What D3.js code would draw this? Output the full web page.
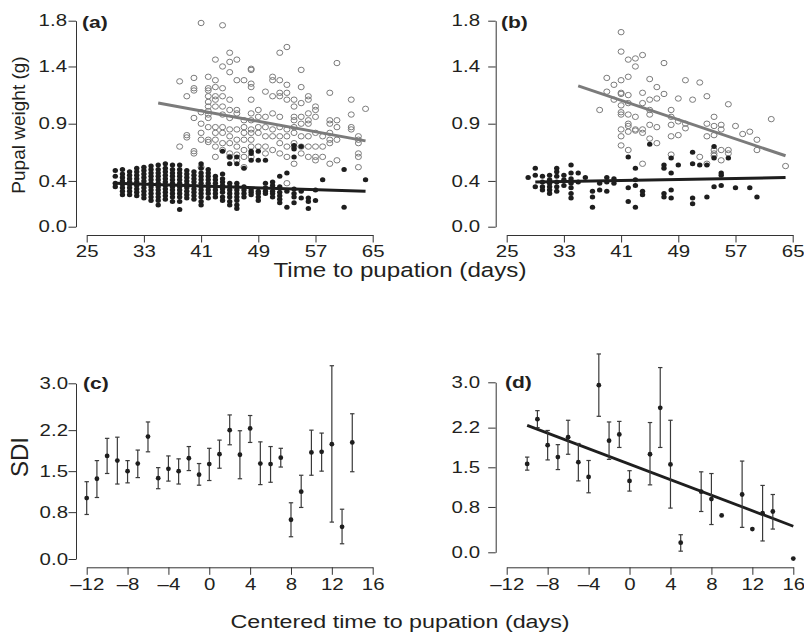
<!DOCTYPE html>
<html>
<head>
<meta charset="utf-8">
<script src="https://cdn.jsdelivr.net/npm/d3@7"></script>
<style>
  body { margin: 0; background: #fff; }
  text { font-family: "Liberation Sans", Arial, sans-serif; fill: #231f20; }
</style>
</head>
<body>
<svg id="chart" width="804" height="638"></svg>
<script>
// ---- data ----
// panels (a) and (b): [day, [pupal weights]] ; open = grey circles, filled = black dots
var aOpen = [
  [38, [1.27, 0.70]], [39, [1.14, 0.80, 0.78]], [40, [1.30, 1.21, 1.19, 0.95, 0.66, 0.64]],
  [41, [1.78, 1.00, 0.90, 0.82, 0.76, 0.52]],
  [42, [1.31, 1.21, 1.19, 1.14, 1.09, 1.05, 1.01, 0.98, 0.95, 0.87, 0.76, 0.74]],
  [43, [1.46, 1.28, 1.22, 1.14, 1.11, 1.05, 0.87, 0.82, 0.76, 0.70, 0.61]],
  [44, [1.76, 1.40, 1.21, 1.14, 1.05, 0.98, 0.87, 0.82, 0.73, 0.67]],
  [45, [1.52, 1.44, 1.35, 1.11, 1.02, 0.95, 0.85, 0.79, 0.73, 0.64, 0.61]],
  [46, [1.46, 1.28, 1.02, 0.99, 0.85, 0.76, 0.70, 0.63, 0.58]],
  [47, [1.28, 0.93, 0.87, 0.82, 0.76, 0.67, 0.61, 0.52]],
  [48, [1.38, 1.37, 1.25, 1.22, 1.11, 0.99, 0.93, 0.85, 0.82, 0.76, 0.70, 0.61]],
  [49, [1.02, 0.96, 0.87, 0.82, 0.70]], [50, [1.18, 0.96, 0.87, 0.79, 0.70, 0.64]],
  [51, [1.31, 1.28, 1.14, 0.99, 0.85, 0.79, 0.67]],
  [52, [1.52, 1.28, 1.17, 1.14, 0.96, 0.87, 0.79, 0.73, 0.64]],
  [53, [1.57, 1.24, 1.17, 1.11, 0.85, 0.79, 0.70, 0.61, 0.38]],
  [54, [1.11, 1.05, 0.96, 0.93, 0.87, 0.82, 0.73, 0.70, 0.55]],
  [55, [1.37, 1.22, 1.08, 0.96, 0.90, 0.79, 0.70, 0.64]],
  [56, [1.14, 1.11, 0.99, 0.93, 0.90, 0.79, 0.70, 0.61]],
  [57, [1.05, 1.02, 0.96, 0.82, 0.70, 0.61, 0.58]], [58, [0.79, 0.70, 0.61]],
  [59, [1.17, 0.93, 0.90, 0.82, 0.76, 0.73, 0.55]], [60, [1.43, 0.93, 0.87, 0.76, 0.58]],
  [62, [1.11, 0.98, 0.87, 0.85]], [63, [0.79, 0.76, 0.73, 0.64, 0.61, 0.52]], [64, [1.03]]
];
var aFilled = [
  [29, [0.49, 0.44, 0.38, 0.35]],
  [30, [0.50, 0.46, 0.43, 0.40, 0.37, 0.34, 0.31, 0.28]],
  [31, [0.48, 0.45, 0.42, 0.39, 0.37, 0.34, 0.31, 0.28]],
  [32, [0.51, 0.48, 0.45, 0.42, 0.39, 0.36, 0.33, 0.30, 0.27]],
  [33, [0.52, 0.49, 0.46, 0.43, 0.40, 0.37, 0.34, 0.31, 0.28, 0.25]],
  [34, [0.53, 0.50, 0.47, 0.44, 0.41, 0.38, 0.35, 0.32, 0.29, 0.26, 0.23]],
  [35, [0.54, 0.50, 0.47, 0.44, 0.41, 0.38, 0.35, 0.32, 0.29, 0.26, 0.23, 0.19]],
  [36, [0.55, 0.51, 0.48, 0.45, 0.42, 0.39, 0.36, 0.33, 0.30, 0.27, 0.24]],
  [37, [0.54, 0.50, 0.47, 0.44, 0.41, 0.38, 0.35, 0.32, 0.29, 0.26, 0.22]],
  [38, [0.54, 0.50, 0.47, 0.44, 0.41, 0.38, 0.35, 0.32, 0.29, 0.26, 0.22, 0.15]],
  [39, [0.49, 0.46, 0.43, 0.40, 0.37, 0.34, 0.31, 0.28, 0.25]],
  [40, [0.48, 0.45, 0.42, 0.39, 0.36, 0.33, 0.30, 0.27, 0.24]],
  [41, [0.55, 0.51, 0.47, 0.44, 0.41, 0.38, 0.35, 0.32, 0.29, 0.26, 0.22, 0.19]],
  [42, [0.50, 0.47, 0.44, 0.41, 0.38, 0.35, 0.32, 0.29, 0.25]],
  [43, [0.44, 0.41, 0.38, 0.35, 0.32, 0.29, 0.26]],
  [44, [0.66, 0.46, 0.42, 0.39, 0.36, 0.33, 0.30, 0.26, 0.23]],
  [45, [0.61, 0.55, 0.38, 0.35, 0.32, 0.29, 0.26, 0.22, 0.19]],
  [46, [0.61, 0.55, 0.38, 0.35, 0.32, 0.29, 0.26, 0.23, 0.19, 0.16]],
  [47, [0.51, 0.35, 0.32, 0.29, 0.26]], [48, [0.66, 0.64, 0.58, 0.32, 0.30, 0.28]],
  [49, [0.66, 0.58, 0.31, 0.29, 0.26, 0.23]], [50, [0.58, 0.38, 0.34, 0.31, 0.29]],
  [51, [0.39, 0.36, 0.31, 0.29, 0.26]], [52, [0.44, 0.35, 0.30, 0.27, 0.24, 0.21]],
  [53, [0.47, 0.31, 0.17]], [54, [0.71, 0.68, 0.61, 0.33, 0.29, 0.26, 0.21]],
  [55, [0.70, 0.31, 0.25]], [56, [0.25, 0.22, 0.16]], [57, [0.32, 0.23]],
  [58, [0.41]], [61, [0.50, 0.17]], [64, [0.41]]
];
var bOpen = [
  [38, [1.02]], [39, [1.30, 1.18]], [40, [1.24, 1.11]],
  [41, [1.70, 1.53, 1.28, 1.17, 1.16, 1.06, 1.00, 0.98, 0.85, 0.79, 0.71]],
  [42, [1.46, 1.31, 1.15, 1.08, 0.98, 0.90, 0.88, 0.83, 0.67]],
  [43, [1.47, 1.40, 0.96, 0.85, 0.84]], [44, [1.50, 1.17, 1.08, 0.85, 0.82, 0.55]],
  [45, [1.29, 1.11, 1.02, 0.98, 0.89, 0.77]], [46, [1.22, 1.12, 0.87, 0.73]],
  [47, [1.43, 1.16]], [48, [1.02, 0.96, 0.89, 0.79, 0.63]], [49, [1.12, 0.92, 0.80]],
  [50, [1.28, 0.90, 0.86]], [51, [1.11]], [52, [1.26, 0.61]], [53, [1.14, 0.90, 0.79, 0.55]],
  [54, [0.96, 0.88, 0.80, 0.67, 0.64, 0.62]], [55, [0.89, 0.85, 0.67, 0.58]],
  [56, [1.07, 0.67, 0.64]], [57, [0.88]], [58, [0.81]], [59, [0.83]], [60, [0.76, 0.67]],
  [62, [0.94]], [64, [0.53]]
];
var bFilled = [
  [28, [0.43]], [29, [0.51, 0.45, 0.35]], [30, [0.44, 0.39, 0.35, 0.32]],
  [31, [0.45, 0.41, 0.38, 0.35, 0.32, 0.29]], [32, [0.51, 0.48, 0.44, 0.39, 0.35, 0.31]],
  [33, [0.45, 0.41, 0.36]], [34, [0.54, 0.47, 0.42, 0.38, 0.34, 0.29, 0.25]],
  [35, [0.47, 0.39]], [36, [0.43]], [37, [0.31, 0.26, 0.17]], [38, [0.38, 0.32]],
  [39, [0.43, 0.39, 0.31]], [40, [0.42, 0.38]], [42, [0.61, 0.34, 0.22]],
  [43, [0.51, 0.41, 0.36, 0.17]], [44, [0.31, 0.28]], [45, [0.72]],
  [47, [0.54, 0.51, 0.29, 0.26]], [48, [0.60, 0.47, 0.32, 0.25]], [49, [0.54]],
  [51, [0.65, 0.55, 0.25, 0.20]], [52, [0.54]], [53, [0.54, 0.26]], [54, [0.70, 0.60, 0.35]],
  [55, [0.47, 0.45, 0.36]], [56, [0.60]], [57, [0.34]], [59, [0.34]], [60, [0.26]]
];
// fitted lines: [day, weight] at both ends
var aOpenFit = [[35, 1.08], [64, 0.75]];
var aFilledFit = [[29, 0.38], [64, 0.31]];
var bOpenFit = [[35, 1.23], [64, 0.62]];
var bFilledFit = [[29, 0.39], [64, 0.43]];

// panels (c) and (d): centred time, SDI and error bar ends
var cTime = [-12, -11, -10, -9, -8, -7, -6, -5, -4, -3, -2, -1, 0, 1, 2, 3, 4, 5, 6, 7, 8, 9, 10, 11, 12, 13, 14];
var cSdi  = [1.04, 1.37, 1.76, 1.68, 1.50, 1.63, 2.09, 1.38, 1.54, 1.50, 1.72, 1.44, 1.62, 1.79, 2.20, 1.78, 2.23, 1.63, 1.62, 1.73, 0.67, 1.15, 1.82, 1.83, 1.96, 0.55, 1.99];
var cHigh = [1.32, 1.68, 2.06, 2.08, 1.68, 1.86, 2.34, 1.56, 1.76, 1.71, 1.92, 1.63, 1.89, 2.03, 2.46, 2.19, 2.45, 2.00, 1.92, 1.89, 0.96, 1.43, 2.20, 2.15, 3.30, 0.85, 2.48];
var cLow  = [0.76, 1.05, 1.46, 1.28, 1.30, 1.39, 1.83, 1.20, 1.33, 1.28, 1.51, 1.26, 1.34, 1.55, 1.95, 1.37, 1.99, 1.27, 1.31, 1.57, 0.38, 0.88, 1.43, 1.50, 0.63, 0.26, 1.49];

var dTime = [-10, -9, -8, -7, -6, -5, -4, -3, -2, -1, 0, 2, 3, 4, 5, 7, 8, 9, 11, 12, 13, 14, 16];
var dSdi  = [1.56, 2.35, 1.89, 1.68, 2.03, 1.59, 1.33, 2.95, 1.97, 2.08, 1.26, 1.73, 2.55, 1.55, 0.17, 1.07, 0.94, 0.65, 1.02, 0.41, 0.69, 0.72, -0.11];
var dHigh = [1.68, 2.50, 2.15, 1.90, 2.33, 1.92, 1.62, 3.50, 2.30, 2.31, 1.44, 2.29, 3.26, 2.33, 0.31, 1.42, 1.39, null, 1.61, null, 1.18, 1.02, null];
var dLow  = [1.45, 2.20, 1.63, 1.46, 1.73, 1.26, 1.05, 2.40, 1.64, 1.85, 1.08, 1.19, 1.85, 0.78, 0.02, 0.72, 0.49, null, 0.44, null, 0.20, 0.41, null];
var dFit  = [[-10, 2.24], [16, 0.46]];

var weightTicks = [0.0, 0.4, 0.9, 1.4, 1.8];
var dayTicks = [25, 33, 41, 49, 57, 65];
var sdiTicks = [0.0, 0.8, 1.5, 2.2, 3.0];
var centredTicks = [-12, -8, -4, 0, 4, 8, 12, 16];

// ---- drawing ----
var svg = d3.select("#chart");
var STRETCH = 1.24;   // the figure's horizontal text is widened
var GREY = "#7b7b7b", INK = "#1e1e1e", AXIS = "#333";

function flat(series) {
    return series.flatMap(function (s) { return s[1].map(function (w) { return {x: s[0], y: w}; }); });
}

function leftAxis(g, y, ticks, fmt, labelRight, axisX) {
    var ax = g.append("g").attr("transform", "translate(" + axisX + ",0)")
        .call(d3.axisLeft(y).tickValues(ticks).tickFormat(fmt).tickSize(7.5).tickSizeOuter(0));
    ax.select(".domain").attr("stroke", AXIS);
    ax.selectAll(".tick line").attr("stroke", AXIS);
    ax.selectAll("text")
        .attr("font-size", 16.5).attr("fill", "#231f20")
        .attr("x", (labelRight - axisX) / STRETCH)
        .attr("transform", "scale(" + STRETCH + ",1)");
}

function bottomAxis(g, x, ticks, fmt, axisY) {
    var ax = g.append("g").attr("transform", "translate(0," + axisY + ")")
        .call(d3.axisBottom(x).tickValues(ticks).tickFormat(fmt).tickSize(7.5).tickSizeOuter(0).tickPadding(3));
    ax.select(".domain").attr("stroke", AXIS);
    ax.selectAll(".tick line").attr("stroke", AXIS);
    ax.selectAll("text")
        .attr("font-size", 16.5).attr("fill", "#231f20")
        .attr("transform", "scale(" + STRETCH + ",1)");
}

function panelTag(text, x, y) {
    svg.append("text").attr("transform", "translate(" + x + "," + y + ") scale(" + STRETCH + ",1)")
        .attr("font-size", 17).attr("font-weight", "bold").text(text);
}

function scatterPanel(p) {
    var g = svg.append("g");
    var x = d3.scaleLinear().domain([25, 65]).range(p.xRange);
    var y = d3.scaleLinear().domain([0, 1.8]).range([226.7, 20.7]);
    var line = d3.line().x(function (d) { return x(d[0]); }).y(function (d) { return y(d[1]); });

    g.selectAll(".open").data(flat(p.open)).enter().append("ellipse")
        .attr("cx", function (d) { return x(d.x); }).attr("cy", function (d) { return y(d.y); })
        .attr("rx", 3).attr("ry", 2.7)
        .attr("fill", "none").attr("stroke", GREY).attr("stroke-width", 1);

    g.selectAll(".filled").data(flat(p.filled)).enter().append("ellipse")
        .attr("cx", function (d) { return x(d.x); }).attr("cy", function (d) { return y(d.y); })
        .attr("rx", 2.7).attr("ry", 2.5).attr("fill", INK);

    g.append("path").datum(p.openFit).attr("d", line)
        .attr("fill", "none").attr("stroke", GREY).attr("stroke-width", 3);
    g.append("path").datum(p.filledFit).attr("d", line)
        .attr("fill", "none").attr("stroke", INK).attr("stroke-width", 3);

    leftAxis(g, y, weightTicks, d3.format(".1f"), p.labelRight, p.axisX);
    bottomAxis(g, x, dayTicks, d3.format("d"), 235);
    panelTag(p.tag, p.tagX, 28);
}

function sdiPanel(p) {
    var g = svg.append("g");
    var x = d3.scaleLinear().domain([-12, 16]).range(p.xRange);
    var y = d3.scaleLinear().domain([0, 3]).range(p.yRange);
    var pts = p.time.map(function (t, i) { return {x: t, y: p.sdi[i], lo: p.low[i], hi: p.high[i]}; });
    var bars = pts.filter(function (d) { return d.hi !== null; });

    if (p.fit) {
        var line = d3.line().x(function (d) { return x(d[0]); }).y(function (d) { return y(d[1]); });
        g.append("path").datum(p.fit).attr("d", line)
            .attr("fill", "none").attr("stroke", INK).attr("stroke-width", 2.8);
    }

    var eb = g.selectAll(".eb").data(bars).enter().append("g").attr("stroke", "#3a3a3a").attr("stroke-width", 1.2);
    eb.append("line")
        .attr("x1", function (d) { return x(d.x); }).attr("x2", function (d) { return x(d.x); })
        .attr("y1", function (d) { return y(d.lo); }).attr("y2", function (d) { return y(d.hi); });
    eb.append("line")
        .attr("x1", function (d) { return x(d.x) - 2.2; }).attr("x2", function (d) { return x(d.x) + 2.2; })
        .attr("y1", function (d) { return y(d.hi); }).attr("y2", function (d) { return y(d.hi); });
    eb.append("line")
        .attr("x1", function (d) { return x(d.x) - 2.2; }).attr("x2", function (d) { return x(d.x) + 2.2; })
        .attr("y1", function (d) { return y(d.lo); }).attr("y2", function (d) { return y(d.lo); });

    g.selectAll(".pt").data(pts).enter().append("circle")
        .attr("cx", function (d) { return x(d.x); }).attr("cy", function (d) { return y(d.y); })
        .attr("r", 2.4).attr("fill", INK);

    var fmtC = function (v) { return v < 0 ? "\u2013" + Math.abs(v) : String(v); };
    leftAxis(g, y, sdiTicks, d3.format(".1f"), p.labelRight, p.axisX);
    bottomAxis(g, x, centredTicks, fmtC, 567.3);
    panelTag(p.tag, p.tagX, p.tagY);
}

scatterPanel({open: aOpen, filled: aFilled, openFit: aOpenFit, filledFit: aFilledFit,
    xRange: [86.7, 372.7], axisX: 76, labelRight: 67, tag: "(a)", tagX: 82});
scatterPanel({open: bOpen, filled: bFilled, openFit: bOpenFit, filledFit: bFilledFit,
    xRange: [506.7, 792.7], axisX: 495.7, labelRight: 480, tag: "(b)", tagX: 501});

sdiPanel({time: cTime, sdi: cSdi, low: cLow, high: cHigh, fit: null,
    xRange: [86.7, 372.7], yRange: [559, 383.3], axisX: 76, labelRight: 68, tag: "(c)", tagX: 83, tagY: 389});
sdiPanel({time: dTime, sdi: dSdi, low: dLow, high: dHigh, fit: dFit,
    xRange: [506.7, 793.3], yRange: [552.3, 382.3], axisX: 495.7, labelRight: 480, tag: "(d)", tagX: 505, tagY: 388});

// axis titles
svg.append("text").attr("transform", "translate(25,125) rotate(-90)")
    .attr("text-anchor", "middle").attr("font-size", 19).text("Pupal weight (g)");
svg.append("text").attr("transform", "translate(28,457) rotate(-90)")
    .attr("text-anchor", "middle").attr("font-size", 24).text("SDI");
svg.append("text").attr("transform", "translate(400,277) scale(" + STRETCH + ",1)")
    .attr("text-anchor", "middle").attr("font-size", 19.5).text("Time to pupation (days)");
svg.append("text").attr("transform", "translate(400,628) scale(" + STRETCH + ",1)")
    .attr("text-anchor", "middle").attr("font-size", 18.8).text("Centered time to pupation (days)");
</script>
</body>
</html>
